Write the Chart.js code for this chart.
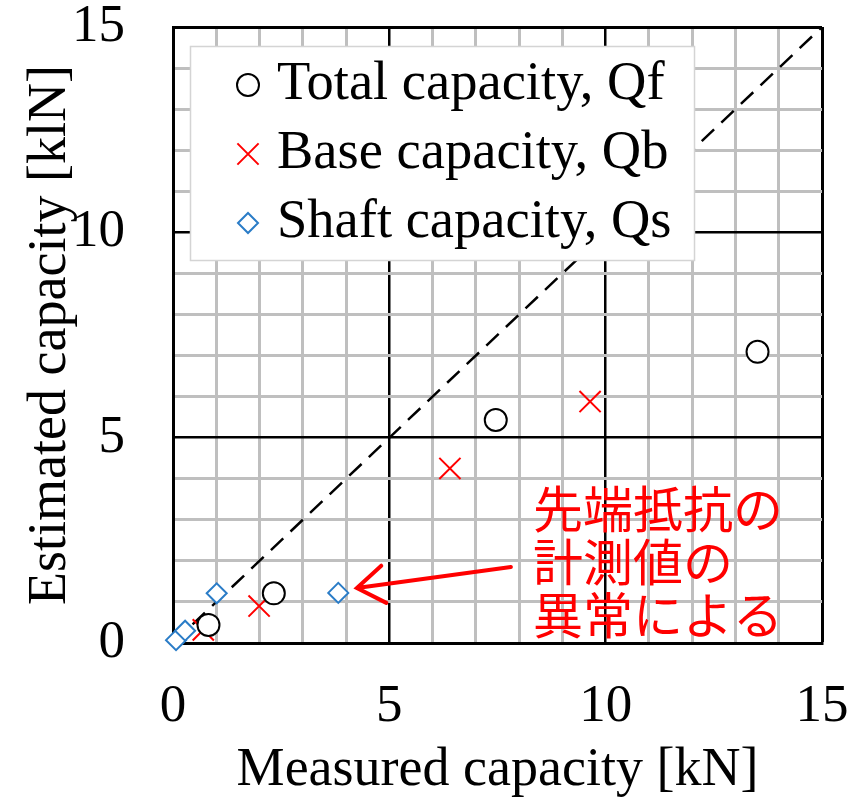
<!DOCTYPE html>
<html>
<head>
<meta charset="utf-8">
<script src="https://cdn.jsdelivr.net/npm/chart.js@4.4.1/dist/chart.umd.min.js"></script>
<style>
  html, body { margin: 0; padding: 0; background: #ffffff; }
  #wrap { width: 850px; height: 806px; }
</style>
</head>
<body>
<div id="wrap"><canvas id="chart" width="850" height="806"></canvas></div>
<script>
// Measured vs. estimated pile capacity [kN]
const totalMeasured  = [0.82, 2.33, 7.46, 13.51];
const totalEstimated = [0.44, 1.21, 5.43, 7.09];

const baseMeasured   = [0.70, 1.99, 6.40, 9.64];
const baseEstimated  = [0.32, 0.90, 4.25, 5.88];

const shaftMeasured  = [0.07, 0.28, 1.01, 3.82];
const shaftEstimated = [0.07, 0.30, 1.21, 1.22];

// 1:1 reference line
const parityLine = [0, 15];

const axisMin = 0, axisMax = 15, minorStep = 1, majorStep = 5;

const seriesLabels = ['Total capacity, Qf', 'Base capacity, Qb', 'Shaft capacity, Qs'];
const noteLines = ['先端抵抗の', '計測値の', '異常による'];

const SERIF = '"Liberation Serif", "Times New Roman", serif';
const CJK = '"Noto Sans CJK JP", "Noto Sans CJK SC", sans-serif';

const pairs = (xs, ys) => xs.map((x, i) => ({ x: x, y: ys[i] }));

// White legend panel drawn over the plot
const legendPanel = {
  id: 'legendPanel',
  afterDatasetsDraw(chart) {
    const { ctx, chartArea } = chart;
    const x0 = chartArea.left + 17, y0 = chartArea.top + 19, w = 505, h = 215;
    ctx.save();
    ctx.fillStyle = '#ffffff';
    ctx.fillRect(x0, y0, w, h);
    ctx.strokeStyle = '#d4d4d4';
    ctx.lineWidth = 1.5;
    ctx.strokeRect(x0 + 0.5, y0 + 0.5, w - 1, h - 1);
    const items = chart.data.datasets.filter(d => d.label);
    items.forEach((ds, i) => {
      const cx = x0 + 58, cy = y0 + 39 + i * 69;
      const r = ds.pointRadius;
      ctx.lineWidth = ds.borderWidth;
      ctx.strokeStyle = ds.borderColor;
      ctx.beginPath();
      if (ds.pointStyle === 'circle') {
        ctx.arc(cx, cy, r, 0, Math.PI * 2);
      } else if (ds.pointStyle === 'crossRot') {
        const o = r * Math.SQRT1_2;
        ctx.moveTo(cx - o, cy - o); ctx.lineTo(cx + o, cy + o);
        ctx.moveTo(cx - o, cy + o); ctx.lineTo(cx + o, cy - o);
      } else {
        ctx.moveTo(cx - r, cy); ctx.lineTo(cx, cy - r);
        ctx.lineTo(cx + r, cy); ctx.lineTo(cx, cy + r);
        ctx.closePath();
      }
      ctx.stroke();
      ctx.fillStyle = '#000000';
      ctx.font = '54.5px ' + SERIF;
      ctx.textAlign = 'left';
      ctx.textBaseline = 'alphabetic';
      ctx.fillText(ds.label, x0 + 87, cy + 14);
    });
    ctx.restore();
  }
};

// Red note with an arrow pointing at the outlying shaft value
const notePlugin = {
  id: 'notePlugin',
  afterDatasetsDraw(chart) {
    const { ctx } = chart;
    const xs = chart.scales.x, ys = chart.scales.y;
    ctx.save();
    ctx.fillStyle = '#ff0000';
    ctx.strokeStyle = '#ff0000';
    ctx.font = '50px ' + CJK;
    ctx.textAlign = 'left';
    ctx.textBaseline = 'middle';
    const tx = xs.getPixelForValue(8.32);
    const ty = ys.getPixelForValue(3.27);
    noteLines.forEach((line, i) => ctx.fillText(line, tx, ty + i * 53));

    const sx = xs.getPixelForValue(7.81), sy = ys.getPixelForValue(1.85);
    const ex = xs.getPixelForValue(4.25), ey = ys.getPixelForValue(1.34);
    ctx.lineWidth = 4;
    ctx.lineCap = 'round';
    ctx.beginPath();
    ctx.moveTo(sx, sy);
    ctx.lineTo(ex, ey);
    const ang = Math.atan2(ey - sy, ex - sx);
    const head = 33, spread = Math.PI / 5.2;
    ctx.moveTo(ex - head * Math.cos(ang - spread), ey - head * Math.sin(ang - spread));
    ctx.lineTo(ex, ey);
    ctx.lineTo(ex - head * Math.cos(ang + spread), ey - head * Math.sin(ang + spread));
    ctx.stroke();
    ctx.restore();
  }
};

const gridColor = c => (c.tick && c.tick.value % majorStep === 0) ? '#000000' : '#bfbfbf';
const gridWidth = c => {
  if (!c.tick) return 3;
  if (c.tick.value === axisMax) return 3;
  return c.tick.value % majorStep === 0 ? 2.5 : 3;
};
const tickText = v => (v % majorStep === 0 ? String(v) : '');
const noEdgePadding = s => {
  s.paddingTop = 0; s.paddingBottom = 0; s.paddingLeft = 0; s.paddingRight = 0;
};

new Chart(document.getElementById('chart'), {
  type: 'scatter',
  data: {
    datasets: [
      {
        label: seriesLabels[0],
        data: pairs(totalMeasured, totalEstimated),
        pointStyle: 'circle', pointRadius: 11, pointHoverRadius: 11,
        borderColor: '#000000', backgroundColor: '#ffffff', borderWidth: 2,
        clip: false, order: 1
      },
      {
        label: seriesLabels[1],
        data: pairs(baseMeasured, baseEstimated),
        pointStyle: 'crossRot', pointRadius: 15, pointHoverRadius: 15,
        borderColor: '#ff0000', backgroundColor: '#ff0000', borderWidth: 2,
        clip: false, order: 2
      },
      {
        label: seriesLabels[2],
        data: pairs(shaftMeasured, shaftEstimated),
        pointStyle: 'rectRot', pointRadius: 10, pointHoverRadius: 10,
        borderColor: '#2a7cc7', backgroundColor: '#ffffff', borderWidth: 2,
        clip: false, order: 0
      },
      {
        data: parityLine.map(v => ({ x: v, y: v })),
        showLine: true, pointRadius: 0, pointHoverRadius: 0,
        borderColor: '#000000', borderWidth: 2.5, borderDash: [17, 10],
        order: 10
      }
    ]
  },
  options: {
    responsive: false,
    animation: false,
    events: [],
    layout: { padding: { top: 27, right: 28, left: 0, bottom: 0 } },
    plugins: { legend: { display: false }, tooltip: { enabled: false } },
    scales: {
      x: {
        type: 'linear', min: axisMin, max: axisMax,
        ticks: {
          stepSize: minorStep, autoSkip: false, maxRotation: 0, padding: 38,
          color: '#000000', font: { family: SERIF, size: 53, lineHeight: 1 },
          callback: tickText
        },
        grid: { drawTicks: false, color: gridColor, lineWidth: gridWidth },
        border: { display: true, color: '#000000', width: 3 },
        title: {
          display: true, text: 'Measured capacity [kN]', color: '#000000',
          font: { family: SERIF, size: 54 }, padding: 3
        },
        afterFit: s => { s.height = 163; noEdgePadding(s); }
      },
      y: {
        type: 'linear', min: axisMin, max: axisMax,
        ticks: {
          stepSize: minorStep, autoSkip: false, padding: 48,
          color: '#000000', font: { family: SERIF, size: 53, lineHeight: 1 },
          callback: tickText
        },
        grid: { drawTicks: false, color: gridColor, lineWidth: gridWidth },
        border: { display: true, color: '#000000', width: 3 },
        title: {
          display: true, text: 'Estimated capacity [klN]', color: '#000000',
          font: { family: SERIF, size: 54 }, padding: 18
        },
        afterFit: s => { s.width = 173; noEdgePadding(s); }
      }
    }
  },
  plugins: [legendPanel, notePlugin]
});
</script>
</body>
</html>
